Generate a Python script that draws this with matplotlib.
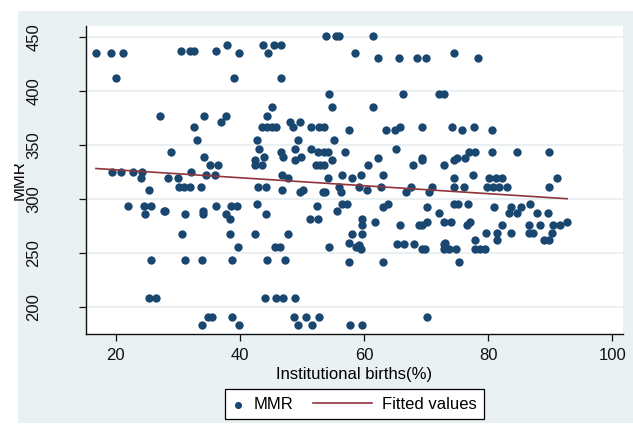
import matplotlib
matplotlib.use("Agg")
import matplotlib.pyplot as plt
from matplotlib.patches import Rectangle
from matplotlib.transforms import Bbox
from matplotlib.legend_handler import HandlerPathCollection
import numpy as np

plt.rcParams["font.family"] = ["Liberation Sans", "DejaVu Sans"]

# institutional births (%) and MMR
births = [
    53.8, 55.4, 56.0, 61.5,
    37.9, 43.7, 45.5, 46.6,
    30.5, 31.9, 32.6, 36.1,
    16.8, 19.3, 21.2, 39.8, 44.5, 58.6, 74.4,
    62.3, 65.6, 68.5, 69.9, 78.3,
    20.1, 39.1, 46.6,
    54.3, 66.2, 72.1, 72.9,
    45.1, 54.8, 61.5,
    27.2, 34.2, 37.7, 44.3,
    36.9, 48.0, 49.7,
    32.6, 43.5, 44.3, 45.1, 45.8, 48.6, 51.5, 52.7, 53.5, 65.8, 69.4, 74.1, 77.7,
    57.6, 63.5, 64.9, 75.8, 80.6,
    33.0, 42.7, 49.3, 55.2,
    43.1, 48.9, 51.5, 65.2,
    28.9, 46.6, 52.5, 53.6, 54.2, 56.9, 76.9, 77.9, 80.6, 84.6, 89.7,
    34.2, 43.9, 46.9, 49.8,
    62.3, 69.4, 75.0, 76.3,
    42.4, 48.9, 54.9, 69.3, 74.4,
    35.2, 36.5, 42.4, 43.6, 52.2, 52.9, 53.5, 60.7, 67.8, 72.8,
    19.4, 20.8, 22.8, 24.3, 32.1,
    34.5, 35.9, 46.7, 56.4, 59.5, 63.1, 77.5,
    24.1, 28.4, 30.0, 47.8, 54.2, 58.0, 74.5, 80.1, 81.2, 82.2, 91.0,
    30.2, 31.0, 31.9, 33.8, 42.9, 44.2, 56.0, 59.2, 62.7, 67.6, 71.0, 74.4, 76.1,
    79.8, 80.7, 81.8, 83.0, 89.8,
    25.3, 46.8, 50.2, 60.4,
    49.6, 53.3, 53.7, 56.2, 66.8, 70.4,
    42.7, 56.4, 57.2, 63.8, 74.4, 75.1, 76.7, 86.8,
    21.9, 24.6, 25.6, 36.1, 39.6, 38.5, 52.4,
    63.0, 70.2, 80.9, 83.7, 85.3,
    27.8, 27.9, 34.1, 55.6,
    72.1, 83.4, 84.6, 87.9, 89.6,
    24.7, 31.1, 34.1, 37.7, 44.2,
    38.4, 51.3, 52.6, 59.7,
    61.8, 70.1, 72.9, 74.0, 77.0, 92.7,
    59.7, 65.8, 68.8, 69.4, 76.5, 82.2, 86.5, 88.4, 90.4, 91.6,
    30.6, 38.4, 42.4, 47.7, 58.1, 59.7,
    79.6, 81.4, 83.7, 86.5, 87.2, 90.2,
    77.9, 81.4, 89.0, 89.7,
    57.5, 73.0,
    65.3, 66.5, 68.0, 72.9,
    59.2,
    39.7, 45.6, 46.5, 54.3, 58.7,
    59.5, 69.3, 69.8, 72.9, 73.6, 74.8, 77.9, 78.7, 79.4,
    25.6, 31.2, 33.9, 38.7, 44.3, 47.3,
    57.6, 63.1, 75.3,
    25.4, 26.5, 44.0, 45.8, 47.0, 48.9,
    34.8, 35.5, 38.7, 48.7, 50.6, 52.8, 70.2,
    33.9, 39.8, 49.4, 51.6, 57.7, 59.7,
]
mmr = (
    [451] * 4 + [442] * 4 + [437] * 4 + [435] * 7 + [430] * 5 + [412] * 3
    + [397] * 4 + [385] * 3 + [377] * 4 + [371] * 3 + [366] * 13 + [364] * 5
    + [354] * 4 + [346] * 4 + [343] * 11 + [339] * 4 + [338] * 4 + [336] * 5
    + [331] * 10 + [325] * 5 + [322] * 7 + [319] * 11 + [311] * 18 + [308] * 4
    + [306] * 6 + [295] * 8 + [293] * 7 + [292] * 5 + [289] * 4 + [287] * 5
    + [286] * 5 + [281] * 4 + [278] * 6 + [276] * 10 + [267] * 6 + [268] * 6
    + [262] * 4 + [259] * 2 + [258] * 4 + [257] * 1 + [255] * 5 + [253] * 9
    + [243] * 6 + [241] * 3 + [208] * 6 + [190] * 7 + [183] * 6
)

# fitted line end points (lfit spans the x range)
fit_x = [16.8, 92.7]
fit_y = [328, 300]


# keep the marker key narrow, like Stata's legend
class NarrowMarker(HandlerPathCollection):
    def legend_artist(self, legend, orig_handle, fontsize, handlebox):
        handlebox.width = 8
        return super().legend_artist(legend, orig_handle, fontsize, handlebox)


W, H = 633, 429
fig = plt.figure(figsize=(W / 100, H / 100), dpi=100, facecolor="white")
bg = Rectangle((18 / W, 6 / H), 1 - 18 / W, 1 - 17 / H,
               transform=fig.transFigure, facecolor="#eaf1f3",
               edgecolor="none", zorder=-10)
fig.add_artist(bg)

ax = fig.add_axes([86 / W, 1 - 334 / H, (623 - 86) / W, (334 - 26) / H])
ax.set_zorder(1)
ax.set_facecolor("white")

pts = ax.scatter(births, mmr, s=36, color="#1a476f", linewidths=0, zorder=3, label="MMR")
ax.plot(fit_x, fit_y, color="#90353b", lw=1.2, zorder=4, label="Fitted values")

ax.set_xlim(15.2, 101.7)
ax.set_ylim(174.7, 460)
ax.set_xticks([20, 40, 60, 80, 100])
ax.set_yticks([200, 250, 300, 350, 400, 450])
ax.grid(axis="y", color="#e6eef0", lw=1.2, zorder=0)
ax.set_axisbelow(True)

for s in ["top", "right"]:
    ax.spines[s].set_visible(False)
for s in ["left", "bottom"]:
    ax.spines[s].set_color("#111111")
    ax.spines[s].set_linewidth(1.0)

ax.tick_params(axis="x", length=5, width=0.9, pad=5, labelsize=12, colors="#111111")
ax.tick_params(axis="y", length=5, width=0.9, pad=27, labelsize=12, colors="#111111")
for lab in ax.get_yticklabels():
    lab.set_rotation(90)
    lab.set_va("center")

ax.set_xlabel("Institutional births(%)", fontsize=12, labelpad=3)

# y title sits half off the left edge in the source image
ylab = fig.text(19 / W, 1 - 180 / H, "MMR", rotation=90, ha="center", va="center",
                fontsize=12, zorder=5)
ylab.set_clip_box(Bbox.from_extents(14, 0, W, H))
ylab.set_clip_on(True)

leg = ax.legend(loc="upper center", bbox_to_anchor=(0.5, -0.18), ncol=2,
                frameon=True, fancybox=False, edgecolor="black", framealpha=1,
                fontsize=12, handlelength=3.5, handletextpad=0.6,
                columnspacing=1.2, borderaxespad=0, borderpad=0.45,
                markerscale=0.85, handler_map={pts: NarrowMarker()})
leg.get_frame().set_linewidth(0.9)

fig.savefig("out.png", dpi=100, facecolor=fig.get_facecolor())
